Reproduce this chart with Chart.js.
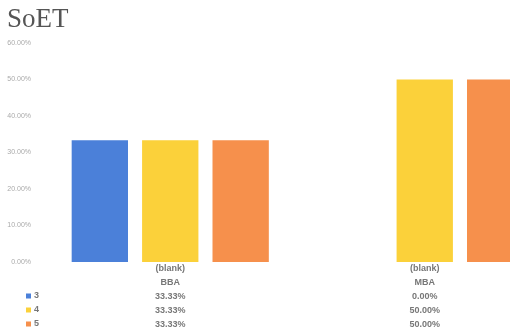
<!DOCTYPE html>
<html>
<head>
<meta charset="utf-8">
<script src="https://cdn.jsdelivr.net/npm/chart.js@4.4.1/dist/chart.umd.min.js"></script>
<style>
  html, body { margin: 0; padding: 0; background: #fff; overflow: hidden; width: 510px; height: 335px; }
  #wrap { position: relative; width: 556px; height: 335px; }
  #title { position: absolute; left: 7px; top: 3px; font-family: "Liberation Serif", "DejaVu Serif", serif; font-size: 27px; color: #555; z-index: 2; }
</style>
</head>
<body>
<div id="wrap">
  <div id="title">SoET</div>
  <canvas id="c" width="556" height="335"></canvas>
</div>
<script>
const groupLabels = ['(blank)', '(blank)'];
const programs = ['BBA', 'MBA'];
const seriesNames = ['3', '4', '5'];
const values3 = [33.33, 0];
const values4 = [33.33, 50];
const values5 = [33.33, 50];
const yTicks = [0, 10, 20, 30, 40, 50, 60];
const colors = ['#4b80d9', '#fbd13a', '#f6904c'];

const seriesValues = [values3, values4, values5];
const labels = programs.map((p, i) => [groupLabels[i], p].concat(seriesValues.map(v => v[i].toFixed(2) + '%')));

const LINE_H = 14;
const FIRST_LINE_Y = 268;

const legendPlugin = {
  id: 'rowLegend',
  afterDraw(chart) {
    const ctx = chart.ctx;
    ctx.save();
    ctx.font = 'bold 9px "Liberation Sans", Arial, sans-serif';
    ctx.textBaseline = 'middle';
    chart.data.datasets.forEach((ds, i) => {
      const y = FIRST_LINE_Y + LINE_H * (i + 2);
      ctx.fillStyle = ds.backgroundColor;
      ctx.fillRect(26, y - 2.5, 5, 5);
      ctx.fillStyle = '#777';
      ctx.fillText(ds.label, 34, y);
    });
    ctx.restore();
  }
};

new Chart(document.getElementById('c'), {
  type: 'bar',
  data: {
    labels: labels,
    datasets: seriesNames.map((n, i) => ({
      label: n,
      data: seriesValues[i],
      backgroundColor: colors[i],
      borderWidth: 0,
      categoryPercentage: 0.83,
      barPercentage: 0.8
    }))
  },
  options: {
    responsive: false,
    animation: false,
    devicePixelRatio: 1,
    layout: { padding: { top: 43, right: 4, left: 0, bottom: 0 } },
    plugins: { legend: { display: false }, title: { display: false }, tooltip: { enabled: false } },
    scales: {
      x: {
        grid: { display: false },
        border: { display: false },
        afterFit(scale) { scale.height = 73; },
        ticks: {
          padding: -8,
          color: '#777',
          font: { family: '"Liberation Sans", Arial, sans-serif', size: 9, weight: 'bold', lineHeight: LINE_H / 9 },
          maxRotation: 0
        }
      },
      y: {
        min: 0,
        max: 60,
        afterFit(scale) { scale.width = 43; },
        afterBuildTicks(scale) { scale.ticks = yTicks.map(v => ({ value: v })); },
        grid: { display: false },
        border: { display: false },
        ticks: {
          color: '#aaa',
          padding: 4,
          font: { family: '"Liberation Sans", Arial, sans-serif', size: 7 },
          callback: v => v.toFixed(2) + '%'
        }
      }
    }
  },
  plugins: [legendPlugin]
});
</script>
</body>
</html>
